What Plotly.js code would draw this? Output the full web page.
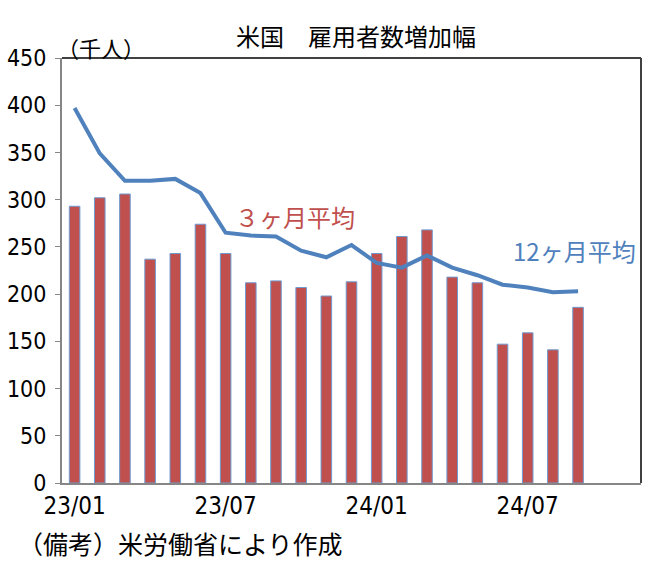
<!DOCTYPE html>
<html>
<head>
<meta charset="utf-8">
<script src="https://cdn.plot.ly/plotly-3.0.1.min.js"></script>
<style>
  body { margin: 0; background: #fff; }
  #chart { width: 658px; height: 564px; }
</style>
</head>
<body>
<div id="chart"></div>
<script>
  // 月（23/01〜24/11、最後の2か月は空き）
  const months = ['23/01', '23/02', '23/03', '23/04', '23/05', '23/06', '23/07', '23/08',
    '23/09', '23/10', '23/11', '23/12', '24/01', '24/02', '24/03', '24/04', '24/05',
    '24/06', '24/07', '24/08', '24/09', '24/10', '24/11'];
  // ３ヶ月平均（千人）
  const avg3 = [293, 302, 306, 237, 243, 274, 243, 212, 214, 207, 198, 213,
    243, 261, 268, 218, 212, 147, 159, 141, 186];
  // 12ヶ月平均（千人）
  const avg12 = [397, 349, 320, 320, 322, 307, 265, 262, 261, 246, 239, 252,
    233, 228, 241, 228, 220, 210, 207, 202, 203];
  const tickMonths = ['23/01', '23/07', '24/01', '24/07'];
  const yTicks = [0, 50, 100, 150, 200, 250, 300, 350, 400, 450];

  const numFont = 'Liberation Sans Narrow, DejaVu Sans Condensed, Arial Narrow, sans-serif';
  const jpFont = 'Noto Sans CJK JP, sans-serif';

  const barTrace = {
    x: months.slice(0, avg3.length),
    y: avg3,
    type: 'bar',
    width: 0.42,
    marker: { color: '#C0504D', line: { color: '#6F9AD0', width: 1 } },
    hoverinfo: 'x+y'
  };

  const lineTrace = {
    x: months.slice(0, avg12.length),
    y: avg12,
    type: 'scatter',
    mode: 'lines',
    line: { color: '#4F81BD', width: 4 },
    hoverinfo: 'x+y'
  };

  const layout = {
    width: 658,
    height: 564,
    margin: { l: 62, r: 17, t: 58, b: 81 },
    paper_bgcolor: '#ffffff',
    plot_bgcolor: '#ffffff',
    showlegend: false,
    title: {
      text: '米国　雇用者数増加幅',
      font: { family: jpFont, size: 24, color: '#000000' },
      x: 0.541,
      xanchor: 'center',
      y: 0.933,
      yanchor: 'middle'
    },
    xaxis: {
      type: 'category',
      categoryorder: 'array',
      categoryarray: months,
      range: [-0.5, months.length - 0.5],
      tickvals: tickMonths,
      ticktext: tickMonths,
      ticks: '',
      tickfont: { family: numFont, size: 24, color: '#000000' },
      showgrid: false,
      showline: true,
      linecolor: '#868686',
      linewidth: 2,
      zeroline: false,
      fixedrange: true
    },
    yaxis: {
      range: [0, 450],
      tickvals: yTicks,
      ticks: 'outside',
      ticklen: 5,
      tickcolor: '#868686',
      tickwidth: 1,
      ticklabelstandoff: 4,
      tickfont: { family: numFont, size: 23, color: '#000000' },
      showgrid: false,
      showline: true,
      linecolor: '#868686',
      linewidth: 2,
      zeroline: false,
      fixedrange: true
    },
    shapes: [
      { type: 'line', xref: 'paper', yref: 'paper', x0: 0, x1: 1, y0: 1, y1: 1,
        line: { color: '#404040', width: 2 } },
      { type: 'line', xref: 'paper', yref: 'paper', x0: 1, x1: 1, y0: 0, y1: 1,
        line: { color: '#404040', width: 2 } }
    ],
    annotations: [
      { text: '（千人）', xref: 'paper', yref: 'paper', x: -0.012, y: 1.026,
        xanchor: 'left', yanchor: 'middle', showarrow: false,
        font: { family: jpFont, size: 22, color: '#000000' } },
      { text: '３ヶ月平均', xref: 'paper', yref: 'paper', x: 0.402, y: 0.628,
        xanchor: 'center', yanchor: 'middle', showarrow: false,
        font: { family: jpFont, size: 24, color: '#C0504D' } },
      { text: '12ヶ月平均', xref: 'paper', yref: 'paper', x: 0.885, y: 0.548,
        xanchor: 'center', yanchor: 'middle', showarrow: false,
        font: { family: jpFont, size: 24, color: '#4F81BD' } },
      { text: '（備考）米労働省により作成', xref: 'paper', yref: 'paper', x: -0.08, y: -0.141,
        xanchor: 'left', yanchor: 'middle', showarrow: false,
        font: { family: jpFont, size: 25, color: '#000000' } }
    ]
  };

  Plotly.newPlot('chart', [barTrace, lineTrace], layout, { displayModeBar: false, staticPlot: true });
</script>
</body>
</html>
